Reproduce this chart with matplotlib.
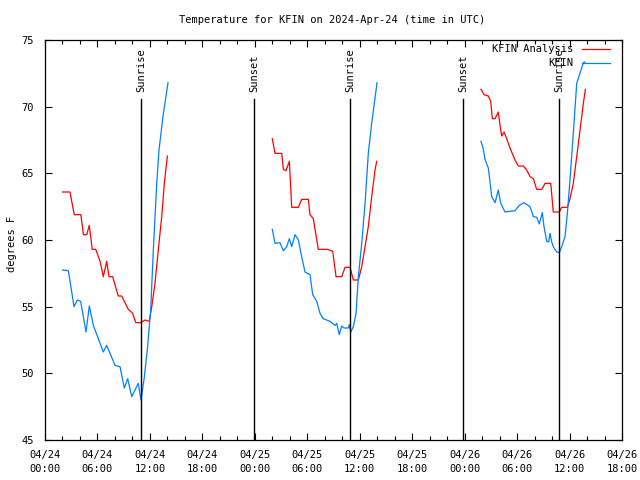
import matplotlib
matplotlib.use('Agg')
import matplotlib.pyplot as plt
import matplotlib.dates as mdates
import numpy as np
import pandas as pd

# hours since 2024-04-24 00:00 UTC, temperatures in F
BASE = pd.Timestamp('2024-04-24 00:00')

analysis_hours = [
    [2.0, 2.85, 3.35, 4.1, 4.4, 4.77, 5.07, 5.4, 5.8, 6.3, 6.67, 7.06, 7.32, 7.74, 8.38,
     8.77, 9.53, 10.03, 10.38, 10.98, 11.44, 11.93, 12.21, 12.58, 12.96, 13.35, 13.65, 14.0],
    [26.0, 26.31, 27.08, 27.26, 27.57, 27.95, 28.22, 28.98, 29.36, 30.12, 30.31, 30.69,
     31.26, 32.29, 32.91, 33.29, 33.94, 34.32, 34.89, 35.27, 35.84, 36.23, 36.61, 36.98,
     37.37, 37.75, 37.94],
    [49.87, 50.22, 50.71, 50.98, 51.17, 51.48, 51.85, 52.05, 52.24, 52.51, 52.81, 53.19,
     53.76, 54.14, 54.71, 55.1, 55.48, 55.86, 56.24, 56.82, 57.2, 57.85, 58.14, 58.83,
     59.1, 59.75, 60.05, 60.43, 60.82, 61.2, 61.58, 61.81],
]
analysis_temps = [
    [63.6, 63.6, 61.9, 61.9, 60.4, 60.4, 61.1, 59.3, 59.3, 58.4, 57.25, 58.4, 57.25, 57.25,
     55.8, 55.8, 54.8, 54.5, 53.8, 53.8, 54.0, 53.9, 55.0, 56.75, 59.25, 61.75, 64.25, 66.3],
    [67.6, 66.5, 66.5, 65.3, 65.2, 65.9, 62.45, 62.45, 63.05, 63.05, 61.9, 61.6, 59.3, 59.3,
     59.15, 57.25, 57.25, 57.95, 57.95, 57.0, 57.0, 58.0, 59.5, 61.0, 63.25, 65.25, 65.9],
    [71.3, 70.9, 70.8, 70.4, 69.1, 69.1, 69.6, 68.6, 67.8, 68.1, 67.6, 66.9, 66.0, 65.55,
     65.55, 65.25, 64.75, 64.6, 63.8, 63.8, 64.25, 64.25, 62.1, 62.1, 62.45, 62.45, 63.1,
     64.25, 66.25, 68.25, 70.25, 71.3],
]

obs_hours = [
    [2.02, 2.67, 3.32, 3.69, 4.08, 4.69, 5.07, 5.53, 6.67, 7.06, 8.01, 8.58, 9.07, 9.46,
     9.92, 10.67, 10.98, 11.32, 11.7, 12.09, 12.39, 12.78, 13.04, 13.5, 14.07],
    [26.0, 26.31, 26.88, 27.26, 27.65, 27.95, 28.22, 28.6, 28.98, 29.36, 29.74, 30.31,
     30.62, 31.08, 31.46, 31.83, 32.6, 33.17, 33.37, 33.66, 33.94, 34.2, 34.69, 34.81,
     34.97, 35.27, 35.58, 35.84, 36.23, 36.61, 36.98, 37.37, 37.98],
    [49.87, 50.14, 50.33, 50.71, 51.1, 51.48, 51.85, 52.13, 52.62, 53.76, 54.25, 54.79,
     55.48, 55.86, 56.24, 56.54, 56.88, 57.08, 57.39, 57.62, 57.77, 57.96, 58.14, 58.53,
     58.83, 59.1, 59.48, 59.75, 60.05, 60.51, 60.82, 61.58, 61.77],
]
obs_temps = [
    [57.75, 57.7, 55.0, 55.5, 55.4, 53.1, 55.05, 53.6, 51.6, 52.1, 50.6, 50.5, 48.9, 49.6,
     48.25, 49.25, 48.0, 49.5, 51.75, 54.75, 59.25, 64.25, 66.75, 69.3, 71.8],
    [60.8, 59.75, 59.8, 59.2, 59.5, 60.1, 59.5, 60.4, 60.0, 58.75, 57.6, 57.4, 55.9, 55.4,
     54.5, 54.1, 53.9, 53.6, 53.75, 52.9, 53.55, 53.4, 53.4, 53.65, 53.1, 53.5, 54.5, 57.25,
     59.75, 62.75, 66.5, 68.75, 71.8],
    [67.4, 66.8, 66.05, 65.4, 63.25, 62.8, 63.75, 62.75, 62.1, 62.2, 62.6, 62.8, 62.5,
     61.75, 61.7, 61.2, 62.05, 61.0, 59.9, 59.85, 60.5, 59.85, 59.5, 59.1, 59.05, 59.5,
     60.25, 62.0, 64.5, 68.75, 71.75, 73.3, 73.35],
]

sun_events = ['Sunrise', 'Sunset', 'Sunrise', 'Sunset', 'Sunrise']
sun_hours = [10.98, 23.94, 34.89, 47.81, 58.83]

x_start, x_end = 0, 66
y_min, y_max = 45, 75


def to_time(hours):
    return BASE + pd.to_timedelta(np.asarray(hours), unit='h')


FONT = 'DejaVu Sans Mono'
FS = 7.5
plt.rcParams['font.family'] = FONT
plt.rcParams['font.size'] = FS

fig = plt.figure(figsize=(6.4, 4.8), dpi=100)
ax = fig.add_axes([45 / 640, 40 / 480, 577 / 640, 400 / 480])

red = '#ff0000'
blue = '#0080ff'
for h, t in zip(analysis_hours, analysis_temps):
    ax.plot(to_time(h), t, color=red, lw=0.9)
for h, t in zip(obs_hours, obs_temps):
    ax.plot(to_time(h), t, color=blue, lw=0.9)

# sunrise / sunset markers
for name, h in zip(sun_events, sun_hours):
    ts = to_time([h])[0]
    ax.plot([ts, ts], [y_min, 70.6], color='black', lw=1.0)
    ax.text(ts, 71.1, name, rotation=90, ha='center', va='bottom', fontsize=FS)

ax.set_xlim(to_time([x_start])[0], to_time([x_end])[0])
ax.set_ylim(y_min, y_max)
ax.set_yticks(np.arange(45, 76, 5))

ax.xaxis.set_major_locator(mdates.HourLocator(byhour=[0, 6, 12, 18]))
ax.xaxis.set_minor_locator(mdates.HourLocator(byhour=range(0, 24, 2)))
ax.xaxis.set_major_formatter(mdates.DateFormatter('%m/%d\n%H:%M'))

ax.tick_params(axis='both', which='both', direction='in', top=True, right=True,
               width=0.8, colors='black', labelsize=FS)
ax.tick_params(axis='x', which='major', length=5, pad=7)
ax.tick_params(axis='x', which='minor', length=3)
ax.tick_params(axis='y', which='major', length=5, pad=8)
for lbl in ax.get_xticklabels():
    lbl.set_linespacing(1.5)
for s in ax.spines.values():
    s.set_linewidth(0.9)

ax.set_ylabel('degrees F', fontsize=FS)
ax.yaxis.set_label_coords((17 - 45) / 577, 0.49)
fig.text(332 / 640, 1 - 20 / 480, 'Temperature for KFIN on 2024-Apr-24 (time in UTC)',
         ha='center', va='center', fontsize=FS)

# key in the upper right, gnuplot style
tr = ax.transAxes
for i, (lab, col) in enumerate([('KFIN Analysis', red), ('KFIN', blue)]):
    yk = 1 - (9.5 + 13.5 * i) / 400
    ax.text((573 - 45) / 577, yk, lab, ha='right', va='center', transform=tr, fontsize=FS)
    ax.plot([(582 - 45) / 577, (610 - 45) / 577], [yk, yk], color=col, lw=0.9, transform=tr)

fig.savefig('out.png', dpi=100)
